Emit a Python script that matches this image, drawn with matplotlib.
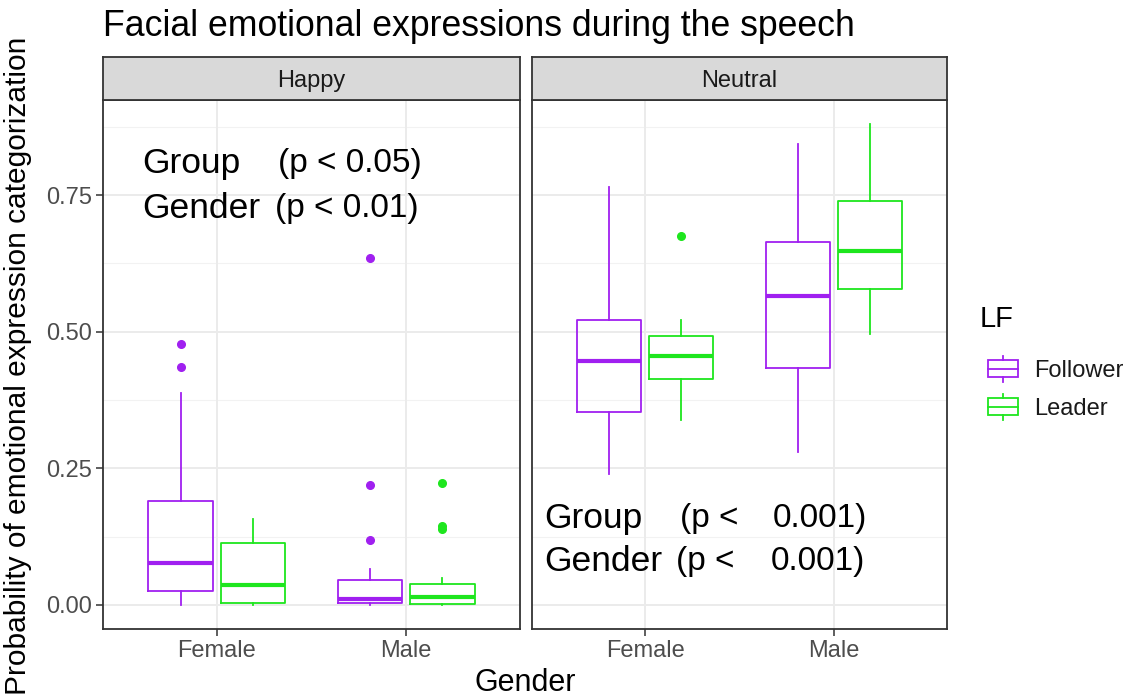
import matplotlib
matplotlib.use("Agg")
import matplotlib.pyplot as plt
from matplotlib.patches import Rectangle, Patch
from matplotlib.lines import Line2D
from matplotlib.legend_handler import HandlerBase

plt.rcParams['font.family'] = ['Liberation Sans', 'DejaVu Sans']

# categories
emotions = ["Happy", "Neutral"]
genders = ["Female", "Male"]
groups = ["Follower", "Leader"]

# five-number summaries per gender: whisker low, Q1, median, Q3, whisker high
happy_follower = [[0.000, 0.025, 0.076, 0.190, 0.387], [0.000, 0.003, 0.011, 0.045, 0.066]]
happy_leader = [[0.000, 0.003, 0.036, 0.114, 0.158], [0.000, 0.002, 0.014, 0.038, 0.050]]
neutral_follower = [[0.239, 0.353, 0.446, 0.522, 0.764], [0.280, 0.434, 0.566, 0.664, 0.843]]
neutral_leader = [[0.339, 0.413, 0.456, 0.493, 0.521], [0.496, 0.578, 0.647, 0.739, 0.880]]

# outlying points per gender
happy_follower_out = [[0.477, 0.435], [0.634, 0.220, 0.118]]
happy_leader_out = [[], [0.223, 0.144, 0.139]]
neutral_follower_out = [[], []]
neutral_leader_out = [[0.675], []]

y_ticks = [0.00, 0.25, 0.50, 0.75]
y_tick_labels = ["0.00", "0.25", "0.50", "0.75"]

# test results printed on each panel
happy_tests = [("Group", "(p < 0.05)"), ("Gender", "(p < 0.01)")]
neutral_tests = [("Group", "(p <", "0.001)"), ("Gender", "(p <", "0.001)")]

colors = {"Follower": "#A020F0", "Leader": "#1EE61E"}

panel_data = {
    "Happy": {"Follower": (happy_follower, happy_follower_out),
              "Leader": (happy_leader, happy_leader_out)},
    "Neutral": {"Follower": (neutral_follower, neutral_follower_out),
                "Leader": (neutral_leader, neutral_leader_out)},
}

W, H = 1128, 699
fig = plt.figure(figsize=(W / 100, H / 100), dpi=100)


def px_axes(x0, y0, x1, y1):
    # pixel box (top-left origin) -> figure axes
    return fig.add_axes([x0 / W, 1 - y1 / H, (x1 - x0) / W, (y1 - y0) / H])


panel_x = [(103, 520), (532, 947)]
ymin, ymax = -0.044, 0.924
offset, box_w = 0.19, 0.34
theme_size = 17
axes = []

for i, emo in enumerate(emotions):
    x0, x1 = panel_x[i]
    ax = px_axes(x0, 100, x1, 629)
    axes.append(ax)

    # background grid
    for v in [0.125, 0.375, 0.625, 0.875]:
        ax.axhline(v, color="#F2F2F2", lw=0.8, zorder=0)
    for v in y_ticks:
        ax.axhline(v, color="#EBEBEB", lw=1.4, zorder=0)
    for g in range(len(genders)):
        ax.axvline(g + 1, color="#EBEBEB", lw=1.4, zorder=0)

    for j, grp in enumerate(groups):
        summ, outs = panel_data[emo][grp]
        c = colors[grp]
        stats = []
        for k in range(len(genders)):
            lo, q1, med, q3, hi = summ[k]
            stats.append(dict(whislo=lo, q1=q1, med=med, q3=q3, whishi=hi, fliers=outs[k]))
        pos = [g + 1 + (offset if j == 1 else -offset) for g in range(len(genders))]
        ax.bxp(stats, positions=pos, widths=box_w, showcaps=False, manage_ticks=False,
               boxprops=dict(color=c, lw=1.3),
               whiskerprops=dict(color=c, lw=1.3),
               medianprops=dict(color=c, lw=3.0, solid_capstyle="butt"),
               flierprops=dict(marker="o", markerfacecolor=c, markeredgecolor=c, markersize=5.5))

    ax.set_xlim(0.4, 2.6)
    ax.set_ylim(ymin, ymax)
    ax.set_xticks([1, 2])
    ax.set_xticklabels(genders, fontsize=theme_size)
    ax.set_yticks(y_ticks)
    ax.tick_params(colors="#333333", labelcolor="#4D4D4D", width=1.1, length=5, pad=3)
    if i == 0:
        ax.set_yticklabels(y_tick_labels, fontsize=theme_size)
    else:
        ax.set_yticklabels([])
        ax.tick_params(axis="y", length=0)
    for s in ax.spines.values():
        s.set_color("#333333")
        s.set_linewidth(1.3)

    # facet strip
    strip = px_axes(x0, 57, x1, 100)
    strip.set_facecolor("#D9D9D9")
    strip.set_xticks([])
    strip.set_yticks([])
    for s in strip.spines.values():
        s.set_color("#333333")
        s.set_linewidth(1.3)
    strip.text(0.5, 0.45, emo, ha="center", va="center", fontsize=theme_size, color="#1A1A1A",
               transform=strip.transAxes)

# p-value annotations
ax = axes[0]
ax.text(0.606, 0.807, happy_tests[0][0], fontsize=25.5, va="center")
ax.text(1.324, 0.807, happy_tests[0][1], fontsize=24, va="center")
ax.text(0.606, 0.726, happy_tests[1][0], fontsize=25.5, va="center")
ax.text(1.308, 0.726, happy_tests[1][1], fontsize=24, va="center")

ax = axes[1]
ax.text(0.466, 0.159, neutral_tests[0][0], fontsize=25.5, va="center")
ax.text(1.182, 0.159, neutral_tests[0][1], fontsize=24, va="center")
ax.text(1.675, 0.159, neutral_tests[0][2], fontsize=24, va="center")
ax.text(0.466, 0.080, neutral_tests[1][0], fontsize=25.5, va="center")
ax.text(1.161, 0.080, neutral_tests[1][1], fontsize=24, va="center")
ax.text(1.664, 0.080, neutral_tests[1][2], fontsize=24, va="center")

fig.text(103 / W, 1 - 27 / H, "Facial emotional expressions during the speech",
         fontsize=25.7, ha="left", va="center")
fig.text(525 / W, 1 - 683 / H, "Gender", fontsize=22, ha="center", va="center")
fig.text(18 / W, 1 - 366 / H, "Probability of emotional expression categorization",
         fontsize=21.5, ha="center", va="center", rotation=90)


class BoxKey(HandlerBase):
    # legend key drawn as a small boxplot glyph
    def create_artists(self, legend, orig_handle, xdescent, ydescent, width, height, fontsize, trans):
        c = orig_handle.get_edgecolor()
        x0, y0 = -xdescent, -ydescent
        box = Rectangle((x0, y0 + 0.17 * height), width, 0.66 * height, fill=False,
                        edgecolor=c, lw=1.3, transform=trans)
        mid = Line2D([x0, x0 + width], [y0 + height / 2] * 2, color=c, lw=1.3, transform=trans)
        lo = Line2D([x0 + width / 2] * 2, [y0, y0 + 0.17 * height], color=c, lw=1.3, transform=trans)
        hi = Line2D([x0 + width / 2] * 2, [y0 + 0.83 * height, y0 + height], color=c, lw=1.3, transform=trans)
        return [box, mid, lo, hi]


# legend title placed on its own, entries below it
fig.text(980 / W, 1 - 319 / H, "LF", fontsize=21, ha="left", va="center")
handles = [Patch(facecolor="none", edgecolor=colors[g]) for g in groups]
leg = fig.legend(handles, groups, loc="upper left", bbox_to_anchor=(988 / W, 1 - 356 / H),
                 frameon=False, fontsize=theme_size,
                 handler_map={Patch: BoxKey()}, handlelength=1.25, handleheight=1.3,
                 handletextpad=0.7, labelspacing=0.52, borderpad=0, borderaxespad=0)
for t in leg.get_texts():
    t.set_color("#1A1A1A")

fig.savefig("out.png", dpi=100, facecolor="white")
